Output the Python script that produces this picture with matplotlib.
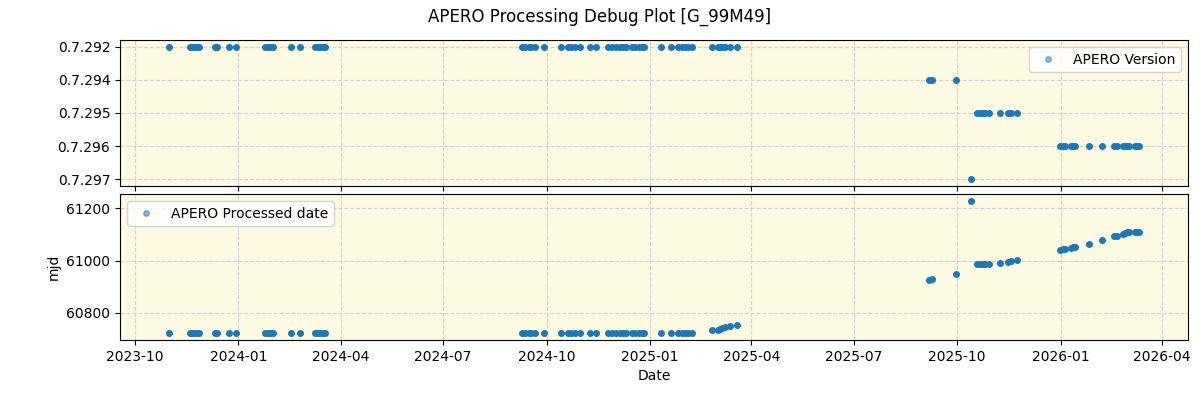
import matplotlib
matplotlib.use("Agg")
import matplotlib.pyplot as plt
import matplotlib.dates as mdates
import pandas as pd

# observation dates
obs_dates = [
    "2023-10-31", "2023-11-19", "2023-11-21", "2023-11-23", "2023-11-25", "2023-11-27",
    "2023-12-11", "2023-12-13", "2023-12-24", "2023-12-30",
    "2024-01-25", "2024-01-27", "2024-01-29", "2024-02-01", "2024-02-17", "2024-02-25",
    "2024-03-09", "2024-03-12", "2024-03-14", "2024-03-16", "2024-03-18",
    "2024-09-09", "2024-09-12", "2024-09-15", "2024-09-17", "2024-09-21", "2024-09-29",
    "2024-10-14", "2024-10-20", "2024-10-23", "2024-10-26", "2024-10-31",
    "2024-11-09", "2024-11-14",
    "2024-11-25", "2024-11-28", "2024-12-02", "2024-12-05", "2024-12-08", "2024-12-11",
    "2024-12-16", "2024-12-19", "2024-12-22", "2024-12-25", "2024-12-27",
    "2025-01-11", "2025-01-20", "2025-01-26", "2025-01-29", "2025-02-01", "2025-02-04",
    "2025-02-07",
    "2025-02-25", "2025-03-02", "2025-03-04", "2025-03-06", "2025-03-09", "2025-03-13",
    "2025-03-19",
    "2025-09-06", "2025-09-09", "2025-09-30",
    "2025-10-13",
    "2025-10-19", "2025-10-21", "2025-10-24", "2025-10-26", "2025-10-29",
    "2025-11-08", "2025-11-15", "2025-11-18", "2025-11-23",
    "2025-12-31", "2026-01-03", "2026-01-05", "2026-01-10", "2026-01-12", "2026-01-14",
    "2026-01-26", "2026-02-07", "2026-02-17", "2026-02-20", "2026-02-25", "2026-02-27",
    "2026-03-01", "2026-03-03", "2026-03-08", "2026-03-10", "2026-03-12",
]

# apero version for each observation
versions = (["0.7.292"] * 59
            + ["0.7.294"] * 3
            + ["0.7.297"]
            + ["0.7.295"] * 9
            + ["0.7.296"] * 17)

# processed date (mjd) for each observation
processed_mjd = (
    [60722] * 52
    + [60733, 60736, 60738, 60741, 60745, 60750, 60753]
    + [60925, 60929, 60947]
    + [61229]
    + [60986, 60986, 60986, 60986, 60986, 60990, 60993, 60998, 61004]
    + [61042, 61044, 61046, 61050, 61051, 61053, 61065, 61080, 61095, 61094,
       61101, 61107, 61110, 61110, 61110, 61110, 61110]
)

version_order = ["0.7.292", "0.7.294", "0.7.295", "0.7.296", "0.7.297"]

dates = pd.to_datetime(obs_dates)
ver_idx = [version_order.index(v) for v in versions]

bg = "#fcfae2"
col = "#1f77b4"

fig, (ax_ver, ax_mjd) = plt.subplots(2, 1, figsize=(12, 4), dpi=100, sharex=True)
fig.subplots_adjust(left=0.1, right=0.99, top=0.9, bottom=0.15, hspace=0.055)

ax_ver.plot(dates, ver_idx, "o", color=col, markersize=4, label="APERO Version")
ax_ver.set_yticks(range(len(version_order)))
ax_ver.set_yticklabels(version_order)
ax_ver.set_ylim(-0.2, len(version_order) - 0.8)
ax_ver.invert_yaxis()
ax_ver.set_facecolor(bg)
ax_ver.grid(True, linestyle="--", color="lightgray")
leg = ax_ver.legend(loc="upper right")
for h in leg.legend_handles:
    h.set_alpha(0.5)

ax_mjd.plot(dates, processed_mjd, "o", color=col, markersize=4, label="APERO Processed date")
ax_mjd.set_facecolor(bg)
ax_mjd.grid(True, linestyle="--", color="lightgray")
ax_mjd.set_ylabel("mjd")
ax_mjd.set_xlabel("Date")
leg = ax_mjd.legend(loc="upper left")
for h in leg.legend_handles:
    h.set_alpha(0.5)

ax_mjd.xaxis.set_major_locator(mdates.MonthLocator(bymonth=[1, 4, 7, 10]))
ax_mjd.xaxis.set_major_formatter(mdates.DateFormatter("%Y-%m"))

fig.suptitle("APERO Processing Debug Plot [G_99M49]")
plt.savefig("out.png")
